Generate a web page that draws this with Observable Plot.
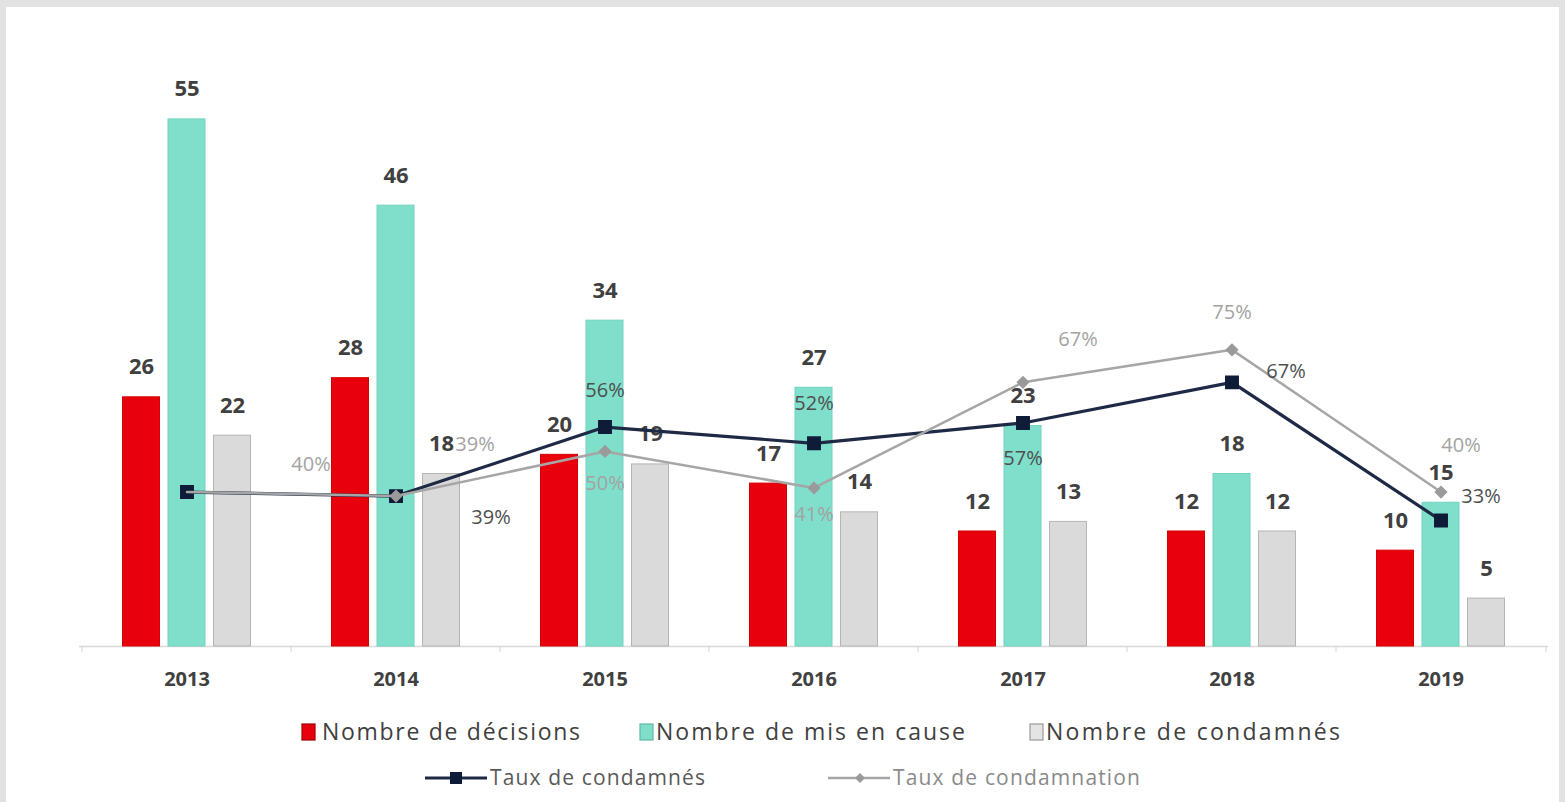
<!DOCTYPE html>
<html><head><meta charset="utf-8">
<script src="https://cdn.jsdelivr.net/npm/d3@7"></script>
<script src="https://cdn.jsdelivr.net/npm/@observablehq/plot@0.6"></script>
<style>
html,body{margin:0;padding:0;}
body{width:1565px;height:802px;background:#e2e2e2;position:relative;overflow:hidden;font-family:"Open Sans",sans-serif;}
#panel{position:absolute;left:6px;top:7px;width:1553px;height:795px;background:#fff;}
#chart{position:absolute;left:0;top:0;}
#legend{position:absolute;left:0;top:700px;}
</style></head><body>
<div id="panel"></div>
<div id="chart"></div>
<svg id="legend" width="1565" height="102" xmlns="http://www.w3.org/2000/svg"></svg>
<script>
// ---- data ----
const years = ["2013","2014","2015","2016","2017","2018","2019"];
const decisions = [26, 28, 20, 17, 12, 12, 10];
const misEnCause = [55, 46, 34, 27, 23, 18, 15];
const condamnes = [22, 18, 19, 14, 13, 12, 5];
const tauxCondamnes = [40, 39, 56, 52, 57, 67, 33];
const tauxCondamnation = [40, 39, 50, 41, 67, 75, 40];
const barNames = ["Nombre de décisions", "Nombre de mis en cause", "Nombre de condamnés"];
const lineNames = ["Taux de condamnés", "Taux de condamnation"];

// ---- chart ----
const idx = d3.range(years.length);
const sec = d3.scaleLinear().domain([0, 100]).range([-0.835, 41.55]); // secondary (percent) axis mapped onto count axis
const band = 210, step = 45.5, bw = 38;
const barSeries = [
  {values: decisions, fill: "#e8000c", stroke: "#d40000", off: -1},
  {values: misEnCause, fill: "#7fdfca", stroke: "#72d3be", off: 0},
  {values: condamnes, fill: "#dadada", stroke: "#b5b5b5", off: 1}
];
const darkOff = [[124,-27],[95,22],[0,-36],[0,-40],[0,36],[54,-11],[40,-24]];
const grayOff = [[124,-27],[79,-51],[0,32],[0,27],[55,-43],[0,-37],[20,-46]];

const marks = [];
marks.push(Plot.ruleY([0], {stroke: "#d9d9d9", strokeWidth: 1.5}));
marks.push(Plot.ruleX(years, {x: d => d, dx: -band/2, y1: 0, y2: -0.6, stroke: "#d9d9d9", strokeWidth: 1.2}));
marks.push(Plot.ruleX([years[years.length-1]], {x: d => d, dx: band/2, y1: 0, y2: -0.6, stroke: "#d9d9d9", strokeWidth: 1.2}));
for (const s of barSeries) {
  marks.push(Plot.barY(idx, {
    x: i => years[i], y: i => s.values[i], fill: s.fill, stroke: s.stroke, strokeWidth: 1,
    insetLeft: band/2 + s.off*step - bw/2, insetRight: band/2 - s.off*step - bw/2
  }));
}
for (const s of barSeries) {
  marks.push(Plot.text(idx, {
    x: i => years[i], y: i => s.values[i], text: i => String(s.values[i]),
    dx: s.off*step, dy: -30, fontSize: 22, fontWeight: "bold", fill: "#404040"
  }));
}
// lines
marks.push(Plot.line(idx, {x: i => years[i], y: i => sec(tauxCondamnes[i]), stroke: "#1e2a45", strokeWidth: 3.2}));
marks.push(Plot.dot(idx, {x: i => years[i], y: i => sec(tauxCondamnes[i]), symbol: "square", r: 7, fill: "#0f1c38", stroke: "#0f1c38"}));
marks.push(Plot.line(idx, {x: i => years[i], y: i => sec(tauxCondamnation[i]), stroke: "#a6a6a6", strokeWidth: 2.5}));
marks.push(Plot.dot(idx.slice(1), {x: i => years[i], y: i => sec(tauxCondamnation[i]), symbol: "diamond2", r: 5, fill: "#9a9a9a", stroke: "#9a9a9a"}));
idx.forEach(i => {
  marks.push(Plot.text([i], {x: d => years[d], y: d => sec(tauxCondamnation[d]), text: d => tauxCondamnation[d] + "%",
    dx: grayOff[i][0], dy: grayOff[i][1], fontSize: 20, fill: "#a3a3a3"}));
  if (i > 0) marks.push(Plot.text([i], {x: d => years[d], y: d => sec(tauxCondamnes[d]), text: d => tauxCondamnes[d] + "%",
    dx: darkOff[i][0], dy: darkOff[i][1], fontSize: 20, fill: "#4f4f4f"}));
});
marks.push(Plot.axisX({tickSize: 0, tickPadding: 25, fontSize: 20, fontWeight: "bold", fill: "#404040", label: null}));

const chart = Plot.plot({
  width: 1565, height: 700,
  marginLeft: 79, marginRight: 17, marginTop: 71, marginBottom: 54,
  style: {background: "transparent", fontFamily: "'Open Sans', sans-serif", overflow: "visible"},
  x: {type: "band", domain: years, paddingInner: 0, paddingOuter: 0, axis: null},
  y: {domain: [0, 60], axis: null},
  marks
});
document.getElementById("chart").appendChild(chart);

// ---- legend ----
const lg = d3.select("#legend");
const row1 = [
  {name: barNames[0], sx: 302, tx: 322, w: 258, fill: "#e8000c", stroke: "#a00000"},
  {name: barNames[1], sx: 640, tx: 656, w: 309, fill: "#7fdfca", stroke: "#5fb8a5"},
  {name: barNames[2], sx: 1030, tx: 1046, w: 294, fill: "#e4e4e4", stroke: "#9a9a9a"}
];
row1.forEach(r => {
  lg.append("rect").attr("x", r.sx).attr("y", 24).attr("width", 13).attr("height", 16)
    .attr("fill", r.fill).attr("stroke", r.stroke).attr("stroke-width", 1.2);
  lg.append("text").attr("x", r.tx).attr("y", 32).attr("dy", "0.35em")
    .attr("font-size", 23).attr("fill", "#404040").attr("font-family", "'Open Sans', sans-serif")
    .attr("textLength", r.w).attr("lengthAdjust", "spacing").text(r.name);
});
// row 2
lg.append("line").attr("x1", 425).attr("x2", 487).attr("y1", 78).attr("y2", 78).attr("stroke", "#1e2a45").attr("stroke-width", 3);
lg.append("rect").attr("x", 450).attr("y", 72).attr("width", 12).attr("height", 12).attr("fill", "#0f1c38");
lg.append("text").attr("x", 490).attr("y", 78).attr("dy", "0.35em").attr("font-size", 21).attr("fill", "#595959")
  .attr("font-family", "'Open Sans', sans-serif").attr("textLength", 215).attr("lengthAdjust", "spacing").text(lineNames[0]);
lg.append("line").attr("x1", 828).attr("x2", 890).attr("y1", 78).attr("y2", 78).attr("stroke", "#a6a6a6").attr("stroke-width", 2.5);
lg.append("path").attr("d", "M860,73 L865,78 L860,83 L855,78 Z").attr("fill", "#9a9a9a");
lg.append("text").attr("x", 893).attr("y", 78).attr("dy", "0.35em").attr("font-size", 21).attr("fill", "#8a8a8a")
  .attr("font-family", "'Open Sans', sans-serif").attr("textLength", 247).attr("lengthAdjust", "spacing").text(lineNames[1]);
</script>
</body></html>
